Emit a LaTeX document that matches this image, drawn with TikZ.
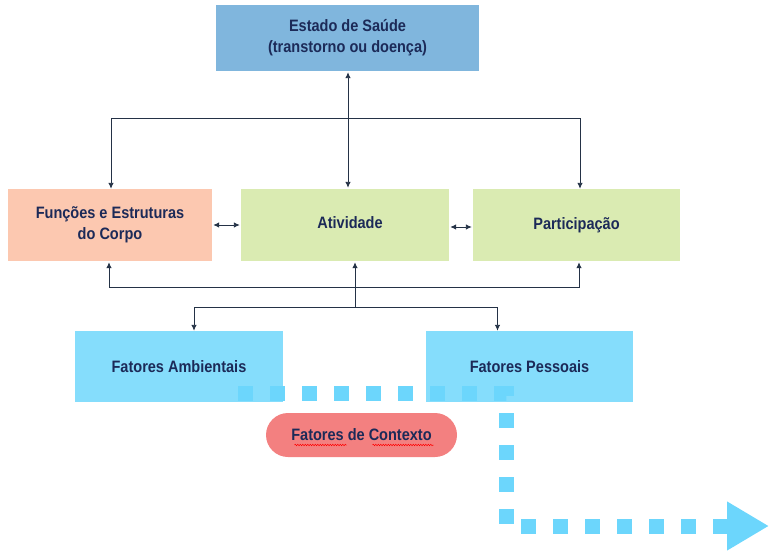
\documentclass[tikz,border=0pt]{standalone}
\usepackage{fontspec}
\setmainfont{Liberation Sans}[FakeStretch=0.88]
\usepackage{tikz}
\usetikzlibrary{arrows.meta,decorations.pathmorphing}

\definecolor{txtblue}{RGB}{28,42,88}
\definecolor{linecol}{RGB}{36,50,70}
\definecolor{estadofill}{RGB}{128,182,221}
\definecolor{corpofill}{RGB}{252,200,176}
\definecolor{verdefill}{RGB}{218,235,178}
\definecolor{fatorfill}{RGB}{133,221,252}
\definecolor{contextofill}{RGB}{243,128,128}
\definecolor{dotcol}{RGB}{108,214,252}

\tikzset{
  caixa/.style={fill=#1, inner sep=0pt, align=center, text=txtblue,
    font=\fontsize{16.5}{21}\selectfont\bfseries},
  liga/.style={draw=linecol, line width=0.9pt, -{Latex[length=6pt,width=5.5pt]}},
  ligadupla/.style={draw=linecol, line width=0.9pt, {Latex[length=6pt,width=5.5pt]}-{Latex[length=6pt,width=5.5pt]}},
  pontilhado/.style={draw=dotcol, line width=15pt, dash pattern=on 15pt off 17pt,
    -{Triangle[length=42pt,width=46pt]}}
}

\begin{document}
\begin{tikzpicture}[x=1pt, y=-1pt]
  \useasboundingbox (0,0) rectangle (769,551);

  % boxes
  \node[caixa=estadofill, minimum width=263pt, minimum height=66pt] (estado) at (347.5,38)
    {Estado de Saúde\\(transtorno ou doença)};
  \node[caixa=corpofill, minimum width=204pt, minimum height=72pt] (corpo) at (110,225)
    {Funções e Estruturas\\do Corpo};
  \node[caixa=verdefill, minimum width=208pt, minimum height=72pt] (atividade) at (345,225)
    {\raisebox{4pt}{\hspace{10pt}Atividade}};
  \node[caixa=verdefill, minimum width=207pt, minimum height=72pt] (participacao) at (576.5,225)
    {\raisebox{-2pt}{Participação}};
  \node[caixa=fatorfill, minimum width=208pt, minimum height=71pt] (ambientais) at (179,366.5)
    {Fatores Ambientais};
  \node[caixa=fatorfill, minimum width=207pt, minimum height=71pt] (pessoais) at (529.5,366.5)
    {Fatores Pessoais};

  % top links
  \coordinate (busT) at (348,118);
  \draw[ligadupla, shorten <=1pt, shorten >=1pt] ([xshift=0.5pt]estado.south) -- ([xshift=0.5pt]estado.south |- atividade.north);
  \draw[liga] (busT) -| ([xshift=1pt]corpo.north);
  \draw[liga] (busT) -| ([xshift=3.5pt]participacao.north);
  \draw[ligadupla, shorten <=1pt, shorten >=1pt] (corpo.east) -- (atividade.west);
  \draw[ligadupla, shorten <=1pt, shorten >=1pt] ([yshift=-2pt]atividade.east) -- ([yshift=-2pt]participacao.west);

  % bottom links
  \coordinate (busB) at (355,287);
  \coordinate (split) at (355,307);
  \draw[liga, shorten >=1pt] (busB) -| ([xshift=-1pt]corpo.south);
  \draw[liga, shorten >=1pt] (busB) -| ([xshift=2.5pt]participacao.south);
  \draw[liga, shorten >=1pt] (split) -- (split |- atividade.south);
  \draw[liga] (split) -| ([xshift=15pt]ambientais.north);
  \draw[liga] (split) -| ([xshift=-32pt]pessoais.north);

  % context arrow
  \draw[pontilhado] (238,393) -- (506,393) -- (506,526) -- (769,526);

  \node[caixa=contextofill, minimum width=191pt, minimum height=44pt, rounded corners=22pt] (contexto) at (361.5,435)
    {Fatores de Contexto};
  \draw[red, line width=0.5pt, decorate, decoration={snake, amplitude=0.7pt, segment length=2.5pt}]
    ([xshift=-67pt,yshift=-10pt]contexto.center) -- ([xshift=-15pt,yshift=-10pt]contexto.center);
  \draw[red, line width=0.5pt, decorate, decoration={snake, amplitude=0.7pt, segment length=2.5pt}]
    ([xshift=11pt,yshift=-10pt]contexto.center) -- ([xshift=72pt,yshift=-10pt]contexto.center);
\end{tikzpicture}
\end{document}
